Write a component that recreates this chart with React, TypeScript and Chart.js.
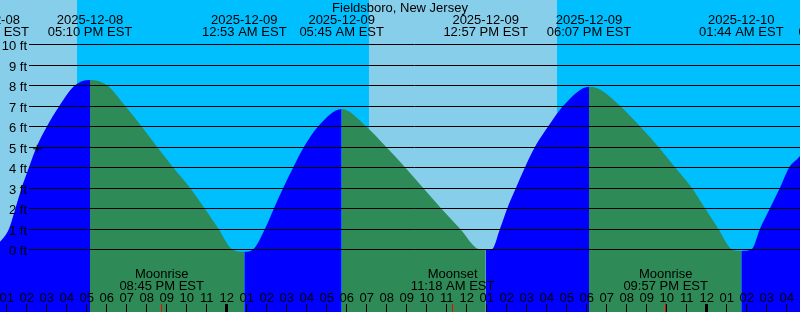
import React, { useEffect, useRef } from "react";
import { Chart, registerables } from "chart.js";

Chart.register(...registerables);

// All times are hours relative to 2025-12-09 00:00 EST
const TITLE = "Fieldsboro, New Jersey";
const X_MIN = -11.333; // 2025-12-08 12:40 PM
const X_MAX = 28.667; // 2025-12-10 04:40 AM
const Y_MIN = -3.06;
const Y_MAX = 12.16;

// tide height (ft)
const tideHours = [
  -12.0, -11.333, -10.883, -10.558, -10.248, -9.883, -9.498, -8.983, -8.358, -7.583,
  -6.833, -5.983, -5.083, -4.258, -3.483, -2.683, -1.833, -1.108, -0.408, 0.267,
  0.883, 1.332, 1.917, 2.367, 2.832, 3.332, 3.867, 4.582, 5.75,
  6.967, 7.967, 8.917, 9.817, 10.717, 11.667, 12.617, 12.95,
  13.267, 13.667, 14.032, 14.467, 14.917, 15.417, 16.082, 16.832, 18.117,
  18.667, 19.667, 20.667, 21.582, 22.417, 23.252, 23.917, 24.582, 25.252, 25.733,
  26.252, 26.667, 27.167, 27.667, 28.132, 28.667, 29.2,
];
const tideFeet = [
  -0.05, 0.37, 1, 2, 3, 4, 5, 6, 7, 8,
  8.26, 8, 7, 6, 5, 4, 3, 2, 1, 0,
  -0.12, 0, 1, 2, 3, 4, 5, 6, 6.84,
  6, 5, 4, 3, 2, 1, 0, -0.03,
  0, 1, 2, 3, 4, 5, 6, 7, 7.93,
  7.8, 7, 6, 5, 4, 3, 2, 1, 0, -0.08,
  0, 1, 2, 3, 4, 4.55, 5.4,
];

// high / low tide events
const tideEventHours = [-12.0, -6.833, 0.883, 5.75, 12.95, 18.117, 25.733, 30.7];
const tideEventDates = [
  "2025-12-08", "2025-12-08", "2025-12-09", "2025-12-09",
  "2025-12-09", "2025-12-09", "2025-12-10", "2025-12-10",
];
const tideEventTimes = [
  "12:00 PM EST", "05:10 PM EST", "12:53 AM EST", "05:45 AM EST",
  "12:57 PM EST", "06:07 PM EST", "01:44 AM EST", "06:40 AM EST",
];

// moon events
const moonEventHours = [-3.25, 11.3, 21.95];
const moonEventNames = ["Moonrise", "Moonset", "Moonrise"];
const moonEventTimes = ["08:45 PM EST", "11:18 AM EST", "09:57 PM EST"];

// daylight
const sunriseHours = [-16.9, 7.117, 31.1];
const sunsetHours = [-7.483, 16.517, 40.5];

// depth grid
const depthValues = [0, 1, 2, 3, 4, 5, 6, 7, 8, 9, 10];
const depthLabels = ["0 ft", "1 ft", "2 ft", "3 ft", "4 ft", "5 ft", "6 ft", "7 ft", "8 ft", "9 ft", "10 ft"];

// hour ticks, first one at -11 (01 PM)
const HOUR_FIRST = -11;
const hourLabels = [
  "01", "02", "03", "04", "05", "06", "07", "08", "09", "10", "11",
  "12", "01", "02", "03", "04", "05", "06", "07", "08", "09", "10", "11",
  "12", "01", "02", "03", "04", "05", "06", "07", "08", "09", "10", "11",
  "12", "01", "02", "03", "04",
];
const midnightHours = [0, 24];

// current time marker
const nowHours = [-9.47];
const nowFeet = [4.9];

const DAY = "#87ceeb";
const NIGHT = "#00bfff";
const RISE = "#0000ff";
const FALL = "#2e8b57";
const INK = "#000000";
const FONT = '13px "Liberation Sans", Arial, sans-serif';

const decor = {
  id: "decor",
  beforeDraw(chart: any) {
    const { ctx, width, height } = chart;
    const x = chart.scales.x;
    ctx.save();
    ctx.fillStyle = NIGHT;
    ctx.fillRect(0, 0, width, height);
    ctx.fillStyle = DAY;
    for (let i = 0; i < sunriseHours.length; i++) {
      const a = Math.round(x.getPixelForValue(sunriseHours[i]));
      const b = Math.round(x.getPixelForValue(sunsetHours[i]));
      ctx.fillRect(a, 0, b - a, height);
    }
    ctx.restore();
  },
  afterDatasetsDraw(chart: any) {
    const { ctx, width } = chart;
    const x = chart.scales.x;
    const y = chart.scales.y;
    ctx.save();
    ctx.font = FONT;
    ctx.fillStyle = INK;
    ctx.strokeStyle = INK;
    ctx.lineWidth = 1;

    // depth grid + labels
    depthValues.forEach((v, i) => {
      const py = Math.round(y.getPixelForValue(v)) + 0.5;
      ctx.beginPath();
      ctx.moveTo(29, py);
      ctx.lineTo(width, py);
      ctx.stroke();
      ctx.textAlign = "right";
      ctx.textBaseline = "alphabetic";
      ctx.fillText(depthLabels[i], 27, py + 5);
    });

    // title
    ctx.textAlign = "center";
    ctx.textBaseline = "alphabetic";
    ctx.fillText(TITLE, width / 2, 12);

    // tide events
    tideEventHours.forEach((h, i) => {
      const px = x.getPixelForValue(h);
      ctx.fillText(tideEventDates[i], px, 24);
      ctx.fillText(tideEventTimes[i], px, 36);
    });

    // moon events
    moonEventHours.forEach((h, i) => {
      const px = x.getPixelForValue(h);
      ctx.fillText(moonEventNames[i], px, 278);
      ctx.fillText(moonEventTimes[i], px, 290);
    });

    // hour ticks
    hourLabels.forEach((lab, i) => {
      const h = HOUR_FIRST + i;
      const px = x.getPixelForValue(h);
      ctx.fillText(lab, px, 302);
      const col = Math.floor(px);
      if (midnightHours.includes(h)) {
        ctx.fillRect(col - 1, 304, 3, 8);
      } else {
        ctx.fillRect(col, 304, 1, 8);
      }
    });

    ctx.fillStyle = "#ff0000";
    moonEventHours.forEach((h) => {
      const col = Math.floor(x.getPixelForValue(h));
      ctx.fillRect(col, 304, 1, 8);
    });

    ctx.restore();
  },
};

export default function App() {
  const ref = useRef<HTMLCanvasElement>(null);
  useEffect(() => {
    const canvas = ref.current!;
    const tidePoints = tideHours.map((h, i) => ({ x: h, y: tideFeet[i] }));
    const nowPoints = nowHours.map((h, i) => ({ x: h, y: nowFeet[i] }));
    const chart = new Chart(canvas, {
      type: "line",
      data: {
        datasets: [
          {
            label: "now",
            data: nowPoints,
            showLine: false,
            pointStyle: "cross",
            pointRadius: 4,
            pointBorderColor: INK,
            pointBorderWidth: 1,
            borderColor: INK,
            fill: false,
          } as any,
          {
            label: "tide",
            data: tidePoints,
            fill: "start",
            backgroundColor: RISE,
            borderColor: "rgba(0,0,0,0)",
            borderWidth: 0,
            pointRadius: 0,
            cubicInterpolationMode: "monotone",
            segment: {
              backgroundColor: (c: any) => (c.p1.parsed.y >= c.p0.parsed.y ? RISE : FALL),
            },
          } as any,
        ],
      },
      options: {
        animation: false,
        responsive: false,
        maintainAspectRatio: false,
        events: [],
        layout: { padding: 0, autoPadding: false },
        plugins: { legend: { display: false }, tooltip: { enabled: false } },
        scales: {
          x: { type: "linear", min: X_MIN, max: X_MAX, display: false },
          y: { type: "linear", min: Y_MIN, max: Y_MAX, display: false },
        },
      },
      plugins: [decor],
    });
    return () => chart.destroy();
  }, []);
  return (
    <div style={{ position: "fixed", left: 0, top: 0, width: 800, height: 312 }}>
      <canvas ref={ref} width={800} height={312} style={{ display: "block" }} />
    </div>
  );
}
